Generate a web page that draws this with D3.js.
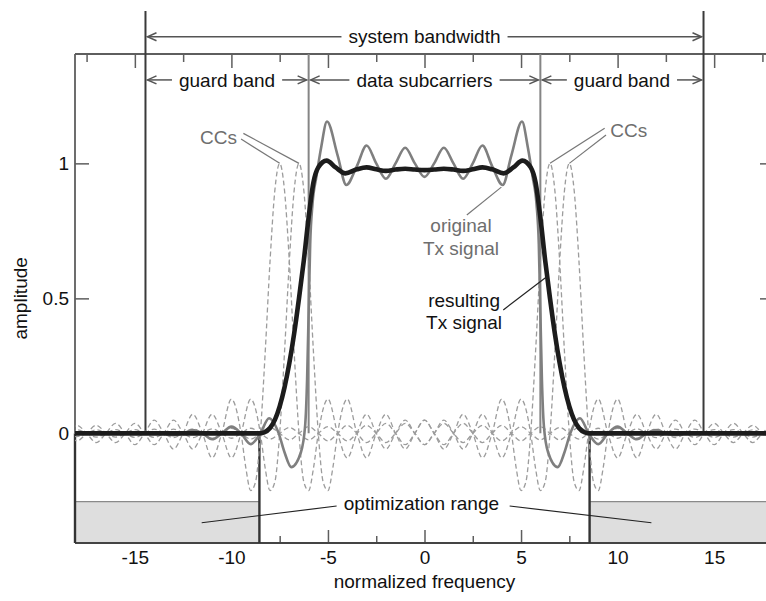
<!DOCTYPE html>
<html>
<head>
<meta charset="utf-8">
<script src="https://cdn.jsdelivr.net/npm/d3@7"></script>
<style>
  body { margin: 0; background: #fff; }
  svg { display: block; }
  text { font-family: "Liberation Sans", Arial, Helvetica, sans-serif; }
</style>
</head>
<body>
<svg id="chart" width="766" height="601"></svg>
<script>
// ---------------- data ----------------
const xTicks = [-15, -10, -5, 0, 5, 10, 15];
const xMinorTicks = [-17.5, -12.5, -7.5, -2.5, 2.5, 7.5, 12.5, 17.5];
const yTicks = [0, 0.5, 1];

const systemBandEdges = [-14.45, 14.45];
const dataBandEdges = [-6, 6];
const optimizationEdges = [-8.55, 8.55];

// cancellation carriers (CCs): centres and the pulse shape
const ccCenters = [-7.5, -6.5, 6.5, 7.5];
const ccShapeOffsets = [-26,-25.5,-25,-24.5,-24,-23.5,-23,-22.5,-22,-21.5,-21,-20.5,-20,-19.5,-19,-18.5,-18,-17.5,-17,-16.5,-16,-15.5,-15,-14.5,-14,-13.5,-13,-12.5,-12,-11.5,-11,-10.5,-10,-9.5,-9,-8.5,-8,-7.5,-7,-6.5,-6,-5.5,-5,-4.5,-4,-3.5,-3,-2.5,-2,-1.75,-1.5,-1.25,-1,-0.75,-0.5,-0.25,0,0.25,0.5,0.75,1,1.25,1.5,1.75,2,2.5,3,3.5,4,4.5,5,5.5,6,6.5,7,7.5,8,8.5,9,9.5,10,10.5,11,11.5,12,12.5,13,13.5,14,14.5,15,15.5,16,16.5,17,17.5,18,18.5,19,19.5,20,20.5,21,21.5,22,22.5,23,23.5,24,24.5,25,25.5,26];
const ccShapeValues = [0,-0.012,0,0.013,0,-0.014,0,0.014,0,-0.015,0,0.016,0,-0.016,0,0.017,0,-0.018,0,0.019,0,-0.021,0,0.022,0,-0.024,0,0.025,0,-0.028,0,0.030,0,-0.034,0,0.037,0,-0.042,0,0.049,0,-0.058,0,0.071,0,-0.091,0,0.127,0,-0.129,-0.212,-0.180,0,0.300,0.637,0.900,1,0.900,0.637,0.300,0,-0.180,-0.212,-0.129,0,0.127,0,-0.091,0,0.071,0,-0.058,0,0.049,0,-0.042,0,0.037,0,-0.034,0,0.030,0,-0.028,0,0.025,0,-0.024,0,0.022,0,-0.021,0,0.019,0,-0.018,0,0.017,0,-0.016,0,0.016,0,-0.015,0,0.014,0,-0.014,0,0.013,0,-0.012,0];

// original Tx signal (grey)
const originalX = [-18.1,-15,-14,-13.5,-13,-12.5,-12,-11.5,-11,-10.5,-10,-9.5,-9,-8.5,-8.05,-7.55,-7.25,-6.9,-6.4,-6.18,-6.08,-6.0,-5.92,-5.8,-5.6,-5.35,-5.05,-4.5,-4.05,-3.5,-3.0,-2.5,-2.0,-1.5,-1.0,-0.5,0,0.5,1.0,1.5,2.0,2.5,3.0,3.5,4.05,4.5,5.05,5.35,5.6,5.8,5.92,6.0,6.08,6.18,6.4,6.9,7.25,7.55,8.05,8.5,9,9.5,10,10.5,11,11.5,12,12.5,13,13.5,14,15,18.1];
const originalY = [0,0,0.003,0,-0.007,0,0.012,0,-0.022,0,0.025,0,-0.04,0,0.056,0,-0.07,-0.125,-0.07,0.03,0.2,0.45,0.7,0.85,0.95,1.06,1.155,1.03,0.92,0.99,1.066,1.0,0.943,1.0,1.058,1.0,0.95,1.0,1.058,1.0,0.943,1.0,1.066,0.99,0.92,1.03,1.155,1.06,0.95,0.85,0.7,0.45,0.2,0.03,-0.07,-0.125,-0.07,0,0.056,0,-0.04,0,0.025,0,-0.022,0,0.012,0,-0.007,0,0.003,0,0];

// resulting Tx signal (black)
const resultingX = [-18.1,-14,-10,-9,-8.6,-8.3,-8.0,-7.75,-7.5,-7.25,-7.0,-6.75,-6.5,-6.25,-6.0,-5.75,-5.5,-5.07,-4.6,-4.1,-3.5,-3.0,-2.5,-2.0,-1.5,-1.0,-0.5,0,0.5,1.0,1.5,2.0,2.5,3.0,3.5,4.1,4.6,5.07,5.5,5.75,6.0,6.25,6.5,6.75,7.0,7.25,7.5,7.75,8.0,8.3,8.6,9,10,14,18.1];
const resultingY = [0,0,0,0,0,0.004,0.02,0.05,0.10,0.17,0.26,0.37,0.5,0.64,0.80,0.93,0.985,1.01,0.985,0.963,0.978,0.985,0.978,0.972,0.977,0.98,0.977,0.975,0.977,0.98,0.977,0.972,0.978,0.985,0.978,0.963,0.985,1.01,0.985,0.93,0.80,0.64,0.5,0.37,0.26,0.17,0.10,0.05,0.02,0.004,0,0,0,0,0];

// ---------------- drawing ----------------
const svg = d3.select("#chart");
const x = d3.scaleLinear().domain([-18.1, 18.1]).range([75, 774]);
const y = d3.scaleLinear().domain([-0.406, 1.405]).range([543, 54]);
const frameColor = "#5e5e5e";
const FS = 19;

svg.append("rect").attr("width", 766).attr("height", 601).attr("fill", "#fff");

svg.append("clipPath").attr("id", "plotclip")
  .append("rect").attr("x", x(-18.1)).attr("y", y(1.405))
  .attr("width", x(18.1) - x(-18.1)).attr("height", y(-0.406) - y(1.405));

function styleAxis(g, width) {
  g.select(".domain").remove();
  g.selectAll(".tick line").attr("stroke", frameColor).attr("stroke-width", width);
  g.selectAll(".tick text").attr("font-size", FS).attr("fill", "#111")
    .attr("font-family", '"Liberation Sans", Arial, sans-serif');
}

// axes (ticks inward)
svg.append("g").attr("transform", `translate(0,${y(-0.406)})`)
  .call(d3.axisBottom(x).tickValues(xTicks).tickSizeInner(-13).tickSizeOuter(0).tickPadding(8).tickFormat(d => String(d)))
  .call(g => styleAxis(g, 1.5));
svg.append("g").attr("transform", `translate(0,${y(-0.406)})`)
  .call(d3.axisBottom(x).tickValues(xMinorTicks).tickSizeInner(-7).tickSizeOuter(0).tickFormat(""))
  .call(g => styleAxis(g, 1.5));
svg.append("g").attr("transform", `translate(0,${y(1.405)})`)
  .call(d3.axisTop(x).tickValues(xTicks).tickSizeInner(-14).tickSizeOuter(0).tickFormat(""))
  .call(g => styleAxis(g, 1.5));
svg.append("g").attr("transform", `translate(0,${y(1.405)})`)
  .call(d3.axisTop(x).tickValues(xMinorTicks).tickSizeInner(-8).tickSizeOuter(0).tickFormat(""))
  .call(g => styleAxis(g, 1.5));
svg.append("g").attr("transform", `translate(${x(-18.1)},0)`)
  .call(d3.axisLeft(y).tickValues(yTicks).tickSizeInner(-14).tickSizeOuter(0).tickPadding(6).tickFormat(d => String(d)))
  .call(g => styleAxis(g, 1.5));
svg.append("g").attr("transform", `translate(${x(18.1)},0)`)
  .call(d3.axisRight(y).tickValues(yTicks).tickSizeInner(-14).tickSizeOuter(0).tickFormat(""))
  .call(g => styleAxis(g, 1.5));

// optimization range shaded areas
const optRanges = [[-18.1, optimizationEdges[0]], [optimizationEdges[1], 18.1]];
const optG = svg.append("g");
optRanges.forEach(r => {
  optG.append("rect").attr("x", x(r[0])).attr("y", y(-0.253))
    .attr("width", x(r[1]) - x(r[0])).attr("height", y(-0.406) - y(-0.253))
    .attr("fill", "#dedede");
  optG.append("line").attr("x1", x(r[0])).attr("x2", x(r[1]))
    .attr("y1", y(-0.253)).attr("y2", y(-0.253))
    .attr("stroke", "#8a8a8a").attr("stroke-width", 1.2);
});

// frame
const fr = svg.append("g").attr("fill", "none").attr("stroke", frameColor).attr("stroke-width", 1.8);
fr.append("line").attr("x1", x(-18.1)).attr("x2", x(18.1)).attr("y1", y(1.405)).attr("y2", y(1.405));
fr.append("line").attr("x1", x(-18.1)).attr("x2", x(18.1)).attr("y1", y(-0.406)).attr("y2", y(-0.406)).attr("stroke", "#444").attr("stroke-width", 2.2);
fr.append("line").attr("x1", x(-18.1)).attr("x2", x(-18.1)).attr("y1", y(1.405)).attr("y2", y(0));
fr.append("line").attr("x1", x(-18.1)).attr("x2", x(-18.1)).attr("y1", y(0)).attr("y2", y(-0.406)).attr("stroke", "#333").attr("stroke-width", 2.4);
fr.append("line").attr("x1", x(18.1)).attr("x2", x(18.1)).attr("y1", y(1.405)).attr("y2", y(-0.406));

// vertical boundary lines
const vl = svg.append("g");
systemBandEdges.forEach(e => vl.append("line").attr("x1", x(e)).attr("x2", x(e))
  .attr("y1", y(1.564)).attr("y2", y(0)).attr("stroke", "#3a3a3a").attr("stroke-width", 2));
dataBandEdges.forEach(e => vl.append("line").attr("x1", x(e)).attr("x2", x(e))
  .attr("y1", y(1.405)).attr("y2", y(0)).attr("stroke", "#858585").attr("stroke-width", 2));
optimizationEdges.forEach(e => vl.append("line").attr("x1", x(e)).attr("x2", x(e))
  .attr("y1", y(0)).attr("y2", y(-0.406)).attr("stroke", "#333").attr("stroke-width", 2.4));

// curves
const plot = svg.append("g").attr("clip-path", "url(#plotclip)");
const line = d3.line().x(d => x(d[0])).y(d => y(d[1])).curve(d3.curveMonotoneX);

ccCenters.forEach(c => {
  const pts = ccShapeOffsets.map((o, i) => [c + o, ccShapeValues[i]]);
  plot.append("path").attr("d", line(pts)).attr("fill", "none")
    .attr("stroke", "#9c9c9c").attr("stroke-width", 1.3).attr("stroke-dasharray", "5,3");
});
plot.append("path").attr("d", line(originalX.map((v, i) => [v, originalY[i]])))
  .attr("fill", "none").attr("stroke", "#7f7f7f").attr("stroke-width", 2.6).attr("stroke-linejoin", "round");
plot.append("path").attr("d", line(resultingX.map((v, i) => [v, resultingY[i]])))
  .attr("fill", "none").attr("stroke", "#1c1c1c").attr("stroke-width", 4.6).attr("stroke-linejoin", "round");

// annotations
const ann = svg.append("g").attr("font-size", FS);

function bandArrow(a, b, yv, label, baseV) {
  const p0 = x(a) + 2, p1 = x(b) - 2, py = y(yv), cx = (p0 + p1) / 2;
  const t = ann.append("text").attr("x", cx).attr("y", y(baseV)).attr("text-anchor", "middle")
    .attr("fill", "#111").text(label);
  const w = t.node().getComputedTextLength();
  const g = ann.append("g").attr("stroke", "#555").attr("stroke-width", 1.5).attr("fill", "none");
  g.append("line").attr("x1", p0).attr("x2", cx - w / 2 - 7).attr("y1", py).attr("y2", py);
  g.append("line").attr("x1", cx + w / 2 + 7).attr("x2", p1).attr("y1", py).attr("y2", py);
  g.append("polyline").attr("points", `${p0 + 9},${py - 4} ${p0},${py} ${p0 + 9},${py + 4}`);
  g.append("polyline").attr("points", `${p1 - 9},${py - 4} ${p1},${py} ${p1 - 9},${py + 4}`);
}
bandArrow(systemBandEdges[0], systemBandEdges[1], 1.469, "system bandwidth", 1.446);
bandArrow(systemBandEdges[0], dataBandEdges[0], 1.309, "guard band", 1.283);
bandArrow(dataBandEdges[0], dataBandEdges[1], 1.309, "data subcarriers", 1.283);
bandArrow(dataBandEdges[1], systemBandEdges[1], 1.309, "guard band", 1.283);

function pointer(a, b, col) {
  ann.append("line").attr("x1", x(a[0])).attr("y1", y(a[1])).attr("x2", x(b[0])).attr("y2", y(b[1]))
    .attr("stroke", col).attr("stroke-width", 1.2);
}
function label(xv, yv, txt, col, anchor) {
  ann.append("text").attr("x", x(xv)).attr("y", y(yv)).attr("text-anchor", anchor || "middle")
    .attr("fill", col).text(txt);
}

// CCs labels
label(-10.67, 1.073, "CCs", "#6e6e6e");
pointer([-9.38, 1.111], [ccCenters[1], 1.0], "#777");
pointer([-9.5, 1.090], [ccCenters[0], 1.0], "#777");
label(10.58, 1.099, "CCs", "#6e6e6e");
pointer([9.33, 1.13], [ccCenters[2], 1.0], "#777");
pointer([9.4, 1.105], [ccCenters[3], 1.0], "#777");

// signal labels
label(1.89, 0.746, "original", "#6e6e6e");
label(1.89, 0.661, "Tx signal", "#6e6e6e");
pointer([2.19, 0.809], [3.98, 0.912], "#777");
label(2.05, 0.468, "resulting", "#111");
label(2.05, 0.387, "Tx signal", "#111");
pointer([4.08, 0.457], [6.33, 0.58], "#222");

// optimization range
label(-0.16, -0.284, "optimization range", "#111");
pointer([-4.55, -0.269], [-11.54, -0.331], "#222");
pointer([4.41, -0.269], [11.75, -0.331], "#222");

// axis titles
svg.append("text").attr("x", x(0)).attr("y", 588).attr("text-anchor", "middle")
  .attr("font-size", FS).attr("fill", "#111").text("normalized frequency");
svg.append("text").attr("transform", `translate(27,${y(0.5)}) rotate(-90)`).attr("text-anchor", "middle")
  .attr("font-size", FS).attr("fill", "#111").text("amplitude");
</script>
</body>
</html>
